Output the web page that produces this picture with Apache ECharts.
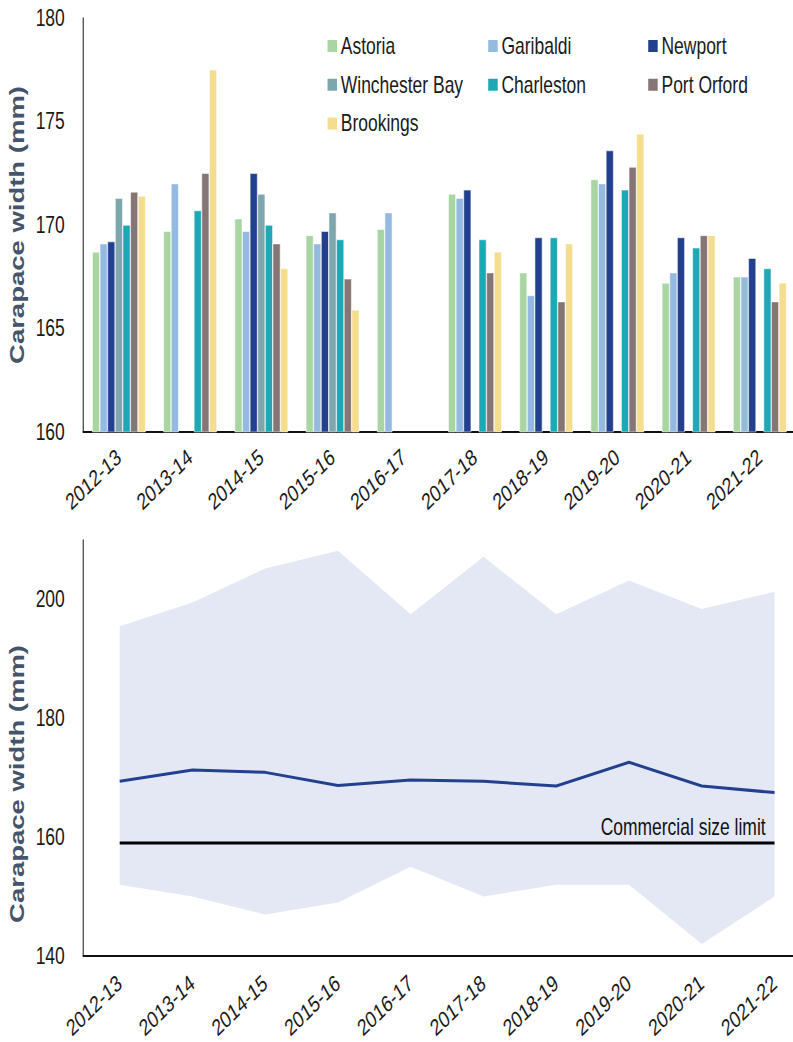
<!DOCTYPE html>
<html><head><meta charset="utf-8">
<script src="https://cdn.jsdelivr.net/npm/echarts@6/dist/echarts.min.js"></script>
<style>
html,body{margin:0;padding:0;background:#fff;overflow:hidden;width:793px;height:1042px}
#c{width:1067px;height:1042px;transform:scaleX(0.76);transform-origin:0 0}
</style>
</head><body><div id="c"></div>
<script>
const seasons = ['2012-13','2013-14','2014-15','2015-16','2016-17','2017-18','2018-19','2019-20','2020-21','2021-22'];
const ports = ['Astoria','Garibaldi','Newport','Winchester Bay','Charleston','Port Orford','Brookings'];
const astoria       = [168.7, 169.7, 170.3, 169.5, 169.8, 171.5, 167.7, 172.2, 167.2, 167.5];
const garibaldi     = [169.1, 172.0, 169.7, 169.1, 170.6, 171.3, 166.6, 172.0, 167.7, 167.5];
const newport       = [169.2, null, 172.5, 169.7, null, 171.7, 169.4, 173.6, 169.4, 168.4];
const winchesterBay = [171.3, null, 171.5, 170.6, null, null, null, null, null, null];
const charleston    = [170.0, 170.7, 170.0, 169.3, null, 169.3, 169.4, 171.7, 168.9, 167.9];
const portOrford    = [171.6, 172.5, 169.1, 167.4, null, 167.7, 166.3, 172.8, 169.5, 166.3];
const brookings     = [171.4, 177.5, 167.9, 165.9, null, 168.7, 169.1, 174.4, 169.5, 167.2];
const portValues = [astoria, garibaldi, newport, winchesterBay, charleston, portOrford, brookings];
const portColors = ['#A9D5A3','#95BAE0','#23408E','#7DA7AC','#1CA8B5','#857675','#F4DD8E'];

const meanWidth = [169.4, 171.3, 170.9, 168.7, 169.6, 169.4, 168.6, 172.6, 168.6, 167.5];
const bandUpper = [195.5, 199.5, 205.2, 208.2, 197.5, 207.2, 197.5, 203.2, 198.4, 201.3];
const bandLower = [152, 150, 147, 149, 155, 150, 152, 152, 142, 150];
const sizeLimit = 159;
const limitLabel = 'Commercial size limit';

const topTicks = [160, 165, 170, 175, 180];
const bottomTicks = [140, 160, 180, 200];

// the page is drawn 1/0.76 wider and squeezed horizontally (condensed lettering)
const S = 0.76;
const X = px => px / S;
const font = '"Liberation Sans", Arial, sans-serif';
const fs = 23;
const titleColor = '#44546A';
const textColor = '#1a1a1a';

const chart = echarts.init(document.getElementById('c'), null, {renderer: 'svg'});
const barSeries = ports.map((p, i) => ({
  name: p, type: 'bar', xAxisIndex: 0, yAxisIndex: 0,
  data: portValues[i], barGap: '0%', barCategoryGap: '25%',
  itemStyle: {color: portColors[i], borderColor: '#ffffff', borderWidth: 0.6},
  emphasis: {disabled: true}
}));

const legendCommon = {
  orient: 'vertical', padding: 0, itemWidth: X(11), itemHeight: 14, itemGap: 14.7, icon: 'rect',
  textStyle: {fontFamily: font, fontSize: fs, lineHeight: 24, color: textColor, padding: [0,0,0,-1]},
  selectedMode: false
};
const titleStyle = {fontFamily: font, fontWeight: 'bold', fontSize: 27.5, color: titleColor};

chart.setOption({
  animation: false,
  legend: [
    Object.assign({left: X(326), top: 34, data: ['Astoria','Winchester Bay','Brookings']}, legendCommon),
    Object.assign({left: X(486.7), top: 34, data: ['Garibaldi','Charleston']}, legendCommon),
    Object.assign({left: X(646.7), top: 34, data: ['Newport','Port Orford']}, legendCommon)
  ],
  grid: [
    {left: X(83.3), right: X(15.5), top: 18, bottom: 610},
    {left: X(83.3), right: 0, top: 540, bottom: 86}
  ],
  xAxis: [
    {type: 'category', gridIndex: 0, data: seasons,
     axisLine: {lineStyle: {color: '#111', width: 2}}, axisTick: {show: false},
     axisLabel: {rotate: 37, fontFamily: font, fontSize: fs, color: textColor, margin: 22}},
    {type: 'category', gridIndex: 1, data: seasons, boundaryGap: true,
     axisLine: {lineStyle: {color: '#111', width: 2}}, axisTick: {show: false},
     axisLabel: {rotate: 37, fontFamily: font, fontSize: fs, color: textColor, margin: 24}}
  ],
  yAxis: [
    {type: 'value', gridIndex: 0, min: topTicks[0], max: topTicks[topTicks.length-1], interval: 5,
     name: 'Carapace width (mm)', nameLocation: 'middle', nameGap: 73,
     nameTextStyle: titleStyle,
     axisLine: {show: true, lineStyle: {color: '#111', width: 1.3}}, axisTick: {show: false}, splitLine: {show: false},
     axisLabel: {fontFamily: font, fontSize: fs, color: textColor, margin: X(18.5)}},
    {type: 'value', gridIndex: 1, min: bottomTicks[0], max: 210, interval: 20,
     name: 'Carapace width (mm)', nameLocation: 'middle', nameGap: 73,
     nameTextStyle: Object.assign({padding: [0, 72, 0, 0]}, titleStyle),
     axisLine: {show: true, lineStyle: {color: '#111', width: 1.3}}, axisTick: {show: false}, splitLine: {show: false},
     axisLabel: {fontFamily: font, fontSize: fs, color: textColor, margin: X(18.5), showMaxLabel: false,
       formatter: v => bottomTicks.includes(v) ? String(v) : ''}}
  ],
  series: barSeries.concat([
    {name: 'lower', type: 'line', xAxisIndex: 1, yAxisIndex: 1, stack: 'band', data: bandLower,
     symbol: 'none', lineStyle: {opacity: 0}, silent: true},
    {name: 'band', type: 'line', xAxisIndex: 1, yAxisIndex: 1, stack: 'band',
     data: bandUpper.map((u, i) => +(u - bandLower[i]).toFixed(2)),
     symbol: 'none', lineStyle: {opacity: 0}, areaStyle: {color: '#E4E8F4', opacity: 1}, silent: true},
    {name: 'limit', type: 'line', xAxisIndex: 1, yAxisIndex: 1,
     data: seasons.map(() => sizeLimit),
     symbol: 'none', lineStyle: {color: '#000', width: 3}, silent: true,
     endLabel: {show: true, formatter: limitLabel, fontFamily: font, fontSize: fs, color: '#111',
       align: 'right', verticalAlign: 'bottom', offset: [-X(15), -4]}},
    {name: 'mean', type: 'line', xAxisIndex: 1, yAxisIndex: 1, data: meanWidth,
     symbol: 'none', lineStyle: {color: '#23408E', width: 3}, silent: true}
  ])
});
</script></body></html>
